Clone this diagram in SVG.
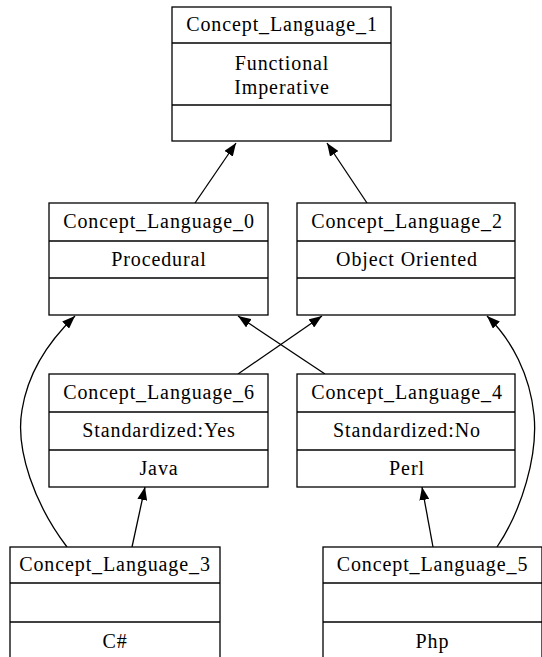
<svg xmlns="http://www.w3.org/2000/svg" width="542" height="657" viewBox="0 0 542 657">
<style>
.box{fill:#fff;stroke:#000;stroke-width:1.3}
.sep{stroke:#000;stroke-width:1.3}
text{font-family:"Liberation Serif","Times New Roman",serif;font-size:20px;text-anchor:middle;fill:#000;letter-spacing:0.9px}
.edge{fill:none;stroke:#000;stroke-width:1.3;marker-end:url(#arr)}
</style>
<defs>
<marker id="arr" markerUnits="userSpaceOnUse" markerWidth="13" markerHeight="10" refX="13" refY="5" orient="auto" viewBox="0 0 13 10">
<path d="M0,0 L13,5 L0,10 z" fill="#000"/>
</marker>
</defs>
<rect width="542" height="657" fill="#fff"/>
<g id="connectors">
<path class="edge" d="M195,203 L236,143"/>
<path class="edge" d="M367,203 L327,143"/>
<path class="edge" d="M325,374 L238,316"/>
<path class="edge" d="M238,374 L322,316"/>
<path class="edge" d="M132,547 L145,487"/>
<path class="edge" d="M433,547 L422,487"/>
<path class="edge" d="M67,547 C35,505 15,450 22,410 C28,372 50,340 75,316"/>
<path class="edge" d="M497,547 C522,510 538,455 534,415 C530,375 512,340 487,316"/>
</g>
<g id="Concept_Language_1">
<rect class="box" x="172" y="7" width="219" height="134"/>
<line class="sep" x1="172" y1="43" x2="391" y2="43"/>
<line class="sep" x1="172" y1="105" x2="391" y2="105"/>
<text x="282" y="31">Concept_Language_1</text>
<text x="282" y="69.5">Functional</text>
<text x="282" y="93.5">Imperative</text>
</g>
<g id="Concept_Language_0">
<rect class="box" x="49" y="203" width="219" height="112"/>
<line class="sep" x1="49" y1="241" x2="268" y2="241"/>
<line class="sep" x1="49" y1="278" x2="268" y2="278"/>
<text x="159" y="228">Concept_Language_0</text>
<text x="159" y="265.5">Procedural</text>
</g>
<g id="Concept_Language_2">
<rect class="box" x="297" y="203" width="218" height="112"/>
<line class="sep" x1="297" y1="241" x2="515" y2="241"/>
<line class="sep" x1="297" y1="278" x2="515" y2="278"/>
<text x="407" y="228">Concept_Language_2</text>
<text x="407" y="265.5">Object Oriented</text>
</g>
<g id="Concept_Language_6">
<rect class="box" x="49" y="374" width="219" height="113"/>
<line class="sep" x1="49" y1="412" x2="268" y2="412"/>
<line class="sep" x1="49" y1="450" x2="268" y2="450"/>
<text x="159" y="399">Concept_Language_6</text>
<text x="159" y="437">Standardized:Yes</text>
<text x="159" y="474.5">Java</text>
</g>
<g id="Concept_Language_4">
<rect class="box" x="297" y="374" width="218" height="113"/>
<line class="sep" x1="297" y1="412" x2="515" y2="412"/>
<line class="sep" x1="297" y1="450" x2="515" y2="450"/>
<text x="407" y="399">Concept_Language_4</text>
<text x="407" y="437">Standardized:No</text>
<text x="407" y="474.5">Perl</text>
</g>
<g id="Concept_Language_3">
<rect class="box" x="10" y="547" width="210" height="113"/>
<line class="sep" x1="10" y1="583" x2="220" y2="583"/>
<line class="sep" x1="10" y1="622" x2="220" y2="622"/>
<text x="115" y="571">Concept_Language_3</text>
<text x="115" y="647.5">C#</text>
</g>
<g id="Concept_Language_5">
<rect class="box" x="323" y="547" width="219" height="113"/>
<line class="sep" x1="323" y1="583" x2="542" y2="583"/>
<line class="sep" x1="323" y1="622" x2="542" y2="622"/>
<text x="432.5" y="571">Concept_Language_5</text>
<text x="432.5" y="647.5">Php</text>
</g>
</svg>
